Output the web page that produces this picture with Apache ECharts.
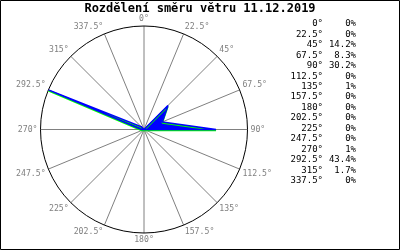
<!DOCTYPE html>
<html>
<head>
<meta charset="utf-8">
<script src="https://cdn.jsdelivr.net/npm/echarts@6/dist/echarts.min.js"></script>
<style>
html,body{margin:0;padding:0;background:#fff;}
#c{width:400px;height:250px;}
</style>
</head>
<body>
<div id="c"></div>
<script>
var title = 'Rozdělení směru větru 11.12.2019';
var directions = [0, 22.5, 45, 67.5, 90, 112.5, 135, 157.5, 180, 202.5, 225, 247.5, 270, 292.5, 315, 337.5];
var values = [0, 0, 14.2, 8.3, 30.2, 0, 1, 0, 0, 0, 0, 0, 1, 43.4, 1.7, 0];
var radiusMax = 43.4;

var lineData = directions.map(function (d, i) { return [values[i], d]; });
lineData.push([values[0], 360]);

var mono = '"DejaVu Sans Mono", "Liberation Mono", monospace';
var graphics = [
  { type: 'rect', shape: { x: 0.5, y: 0.5, width: 399, height: 249 }, style: { fill: 'none', stroke: '#000', lineWidth: 1 }, z: 100 },
  { type: 'text', x: 200, y: 9, style: { text: title, font: 'bold 12px ' + mono, fill: '#000', textAlign: 'center', textVerticalAlign: 'middle' } }
];
directions.forEach(function (d, i) {
  var y = 24 + i * 10.45;
  graphics.push({ type: 'text', x: 323, y: y, style: { text: d + '°', font: '9px ' + mono, fill: '#000', textAlign: 'right', textVerticalAlign: 'middle' } });
  graphics.push({ type: 'text', x: 356, y: y, style: { text: values[i] + '%', font: '9px ' + mono, fill: '#000', textAlign: 'right', textVerticalAlign: 'middle' } });
});

var chart = echarts.init(document.getElementById('c'), null, { renderer: 'canvas' });
chart.setOption({
  animation: false,
  backgroundColor: '#fff',
  polar: { center: [144, 129.5], radius: [0, 103.5] },
  angleAxis: {
    type: 'value', min: 0, max: 360, interval: 22.5, startAngle: 90, clockwise: true,
    axisLine: { show: true, lineStyle: { color: '#000', width: 1 } },
    axisTick: { show: false },
    splitLine: { show: true, lineStyle: { color: '#808080', width: 1 } },
    axisLabel: {
      margin: 3, color: '#808080', fontFamily: mono, fontSize: 8.2,
      formatter: function (v) { return v >= 360 ? '' : v + '°'; }
    }
  },
  radiusAxis: {
    type: 'value', min: 0, max: radiusMax,
    axisLine: { show: false }, axisTick: { show: false }, axisLabel: { show: false }, splitLine: { show: false }
  },
  series: [{
    type: 'line', coordinateSystem: 'polar', data: lineData,
    symbol: 'none', smooth: false,
    lineStyle: { color: '#0000ff', width: 1.5, shadowColor: '#00ff00', shadowBlur: 0, shadowOffsetX: 0, shadowOffsetY: 1 },
    areaStyle: { color: '#0000ff', opacity: 1 },
    z: 3
  }],
  graphic: graphics
});
</script>
</body>
</html>
